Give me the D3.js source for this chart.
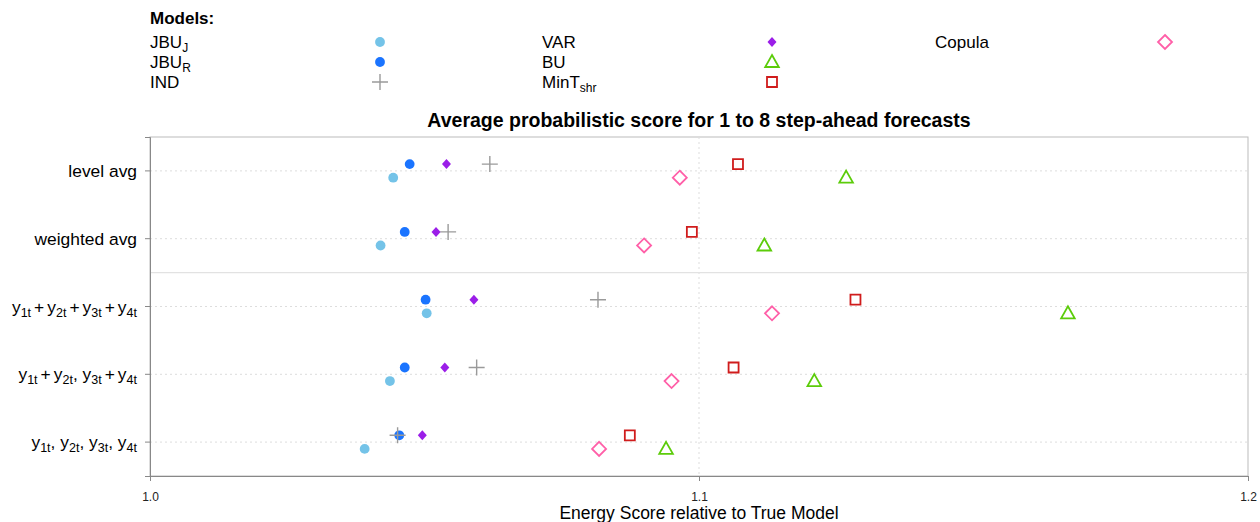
<!DOCTYPE html>
<html>
<head>
<meta charset="utf-8">
<script src="https://cdn.jsdelivr.net/npm/d3@7"></script>
<style>
  html, body { margin: 0; padding: 0; background: #fff; }
  svg { display: block; font-family: "Liberation Sans", Arial, Helvetica, sans-serif; }
</style>
</head>
<body>
<svg id="chart" width="1260" height="522"></svg>
<script>
// ---- data ----
const rowLabels = [
  [["level avg", ""]],
  [["weighted avg", ""]],
  [["y", ""], ["1t", "sub"], ["+", "op"], ["y", ""], ["2t", "sub"], ["+", "op"], ["y", ""], ["3t", "sub"], ["+", "op"], ["y", ""], ["4t", "sub"]],
  [["y", ""], ["1t", "sub"], ["+", "op"], ["y", ""], ["2t", "sub"], [", y", ""], ["3t", "sub"], ["+", "op"], ["y", ""], ["4t", "sub"]],
  [["y", ""], ["1t", "sub"], [", y", ""], ["2t", "sub"], [", y", ""], ["3t", "sub"], [", y", ""], ["4t", "sub"]]
];
const rowKeys = ["level avg", "weighted avg", "sum all", "pairs", "bottom"];
const modelNames = ["JBU_J", "JBU_R", "IND", "VAR", "BU", "MinT_shr", "Copula"];
const modelLabels = [
  [["JBU", ""], ["J", "sub"]],
  [["JBU", ""], ["R", "sub"]],
  [["IND", ""]],
  [["VAR", ""]],
  [["BU", ""]],
  [["MinT", ""], ["shr", "sub"]],
  [["Copula", ""]]
];
const valJBUJ   = [1.0443, 1.0420, 1.0504, 1.0437, 1.0391];
const valJBUR   = [1.0473, 1.0464, 1.0502, 1.0464, 1.0454];
const valIND    = [1.0619, 1.0543, 1.0816, 1.0595, 1.0451];
const valVAR    = [1.0540, 1.0521, 1.0590, 1.0537, 1.0496];
const valBU     = [1.1268, 1.1119, 1.1672, 1.1210, 1.0940];
const valMinT   = [1.1071, 1.0987, 1.1285, 1.1063, 1.0874];
const valCopula = [1.0965, 1.0900, 1.1133, 1.0950, 1.0818];
const xTicks = [1.0, 1.1, 1.2];
const xTickLabels = ["1.0", "1.1", "1.2"];
const titleText = "Average probabilistic score for 1 to 8 step-ahead forecasts";
const xAxisTitle = "Energy Score relative to True Model";

// ---- styles ----
const seriesVals = [valJBUJ, valJBUR, valIND, valVAR, valBU, valMinT, valCopula];
const colors = ["#74c3e8", "#1a74ff", "#9a9a9a", "#9b1ee8", "#5ccc0a", "#d01c1c", "#ff5fa8"];
const shapes = ["dot", "dot", "plus", "smalldiamond", "triangle", "square", "diamond"];
const side = [1, -1, -1, -1, 1, -1, 1];

const svg = d3.select("#chart");
const M = { left: 150, right: 1248, top: 137, bottom: 476 };

const x = d3.scaleLinear().domain([1.0, 1.2]).range([M.left, M.right]);
const y = d3.scaleBand().domain(rowKeys).range([M.top, M.bottom]);
const off = y.bandwidth() * 0.1;

function symbolPath(shape) {
  switch (shape) {
    case "plus": return "M-8,0H8M0,-8V8";
    case "smalldiamond": return "M0,-5L4.5,0L0,5L-4.5,0Z";
    case "diamond": return "M0,-7L7,0L0,7L-7,0Z";
    case "triangle": return "M0,-7L6.8,5L-6.8,5Z";
    case "square": return "M-5,-5H5V5H-5Z";
  }
  return null;
}
function drawSymbol(g, shape, color) {
  if (shape === "dot") {
    g.append("circle").attr("r", 4.9).attr("fill", color);
  } else if (shape === "smalldiamond") {
    g.append("path").attr("d", symbolPath(shape)).attr("fill", color);
  } else {
    g.append("path").attr("d", symbolPath(shape)).attr("fill", "none")
      .attr("stroke", color).attr("stroke-width", shape === "plus" ? 1.4 : 1.8);
  }
}
function rich(t, parts, bigSize, subSize) {
  let prevSub = false, prevOp = false;
  parts.forEach(([s, kind]) => {
    const ts = t.append("tspan").text(s);
    if (kind === "sub") {
      ts.attr("font-size", subSize).attr("dy", prevSub ? 0 : 4);
      prevSub = true; prevOp = false;
    } else if (kind === "op") {
      ts.attr("font-size", bigSize).attr("dy", prevSub ? -4 : 0).attr("dx", 3);
      prevSub = false; prevOp = true;
    } else {
      ts.attr("font-size", bigSize).attr("dy", prevSub ? -4 : 0);
      if (prevOp) ts.attr("dx", 3);
      prevSub = false; prevOp = false;
    }
  });
}

// ---- legend ----
svg.append("text").attr("x", 150).attr("y", 24).attr("font-size", 17)
  .attr("font-weight", "bold").attr("fill", "#000").text("Models:");
const legCols = [{ tx: 150, sx: 380 }, { tx: 542, sx: 772 }, { tx: 935, sx: 1165 }];
modelNames.forEach((m, i) => {
  const col = Math.floor(i / 3), row = i % 3;
  const cy = 42 + row * 20;
  const t = svg.append("text").attr("x", legCols[col].tx).attr("y", cy + 6).attr("fill", "#000");
  rich(t, modelLabels[i], 17, 12);
  const g = svg.append("g").attr("transform", `translate(${legCols[col].sx},${cy})`);
  drawSymbol(g, shapes[i], colors[i]);
});

// ---- title ----
svg.append("text").attr("x", (M.left + M.right) / 2).attr("y", 127)
  .attr("text-anchor", "middle").attr("font-size", 19.5).attr("font-weight", "bold")
  .attr("fill", "#000").text(titleText);

// ---- plot frame & grid ----
svg.append("rect").attr("x", M.left).attr("y", M.top)
  .attr("width", M.right - M.left).attr("height", M.bottom - M.top)
  .attr("fill", "none").attr("stroke", "#bbbbbb").attr("stroke-width", 1);

rowKeys.forEach(k => {
  svg.append("line").attr("x1", M.left).attr("x2", M.right)
    .attr("y1", y(k) + y.bandwidth() / 2).attr("y2", y(k) + y.bandwidth() / 2)
    .attr("stroke", "#dddddd").attr("stroke-dasharray", "2,3");
});
svg.append("line").attr("x1", x(1.1)).attr("x2", x(1.1))
  .attr("y1", M.top).attr("y2", M.bottom)
  .attr("stroke", "#dddddd").attr("stroke-dasharray", "2,3");
svg.append("line").attr("x1", M.left).attr("x2", M.right)
  .attr("y1", y(rowKeys[2])).attr("y2", y(rowKeys[2]))
  .attr("stroke", "#e2e2e2").attr("stroke-width", 1.2);

// ---- axes ----
const xAxis = d3.axisBottom(x).tickValues(xTicks)
  .tickFormat((d, i) => xTickLabels[i]).tickSize(5).tickPadding(11);
const gx = svg.append("g").attr("transform", `translate(0,${M.bottom})`).call(xAxis);
gx.select(".domain").attr("stroke", "#888");
gx.selectAll(".tick line").attr("stroke", "#888");
gx.selectAll(".tick text").attr("font-size", 12).attr("fill", "#222")
  .attr("font-family", "'Liberation Sans', Arial, sans-serif");

const yAxis = d3.axisLeft(y).tickSize(5).tickFormat("");
const gy = svg.append("g").attr("transform", `translate(${M.left},0)`).call(yAxis);
gy.select(".domain").attr("stroke", "#888");
gy.selectAll(".tick line").attr("stroke", "#888");
rowKeys.forEach((k, i) => {
  const t = svg.append("text").attr("x", 137).attr("y", y(k) + y.bandwidth() / 2 + 6)
    .attr("text-anchor", "end").attr("fill", "#000");
  rich(t, rowLabels[i], 17.4, 12.5);
});

svg.append("text").attr("x", (M.left + M.right) / 2).attr("y", 519)
  .attr("text-anchor", "middle").attr("font-size", 17.5).attr("fill", "#000")
  .text(xAxisTitle);

// ---- points ----
modelNames.forEach((m, i) => {
  seriesVals[i].forEach((v, r) => {
    const cy = y(rowKeys[r]) + y.bandwidth() / 2 + side[i] * off;
    const g = svg.append("g").attr("transform", `translate(${x(v)},${cy})`);
    drawSymbol(g, shapes[i], colors[i]);
  });
});
</script>
</body>
</html>
